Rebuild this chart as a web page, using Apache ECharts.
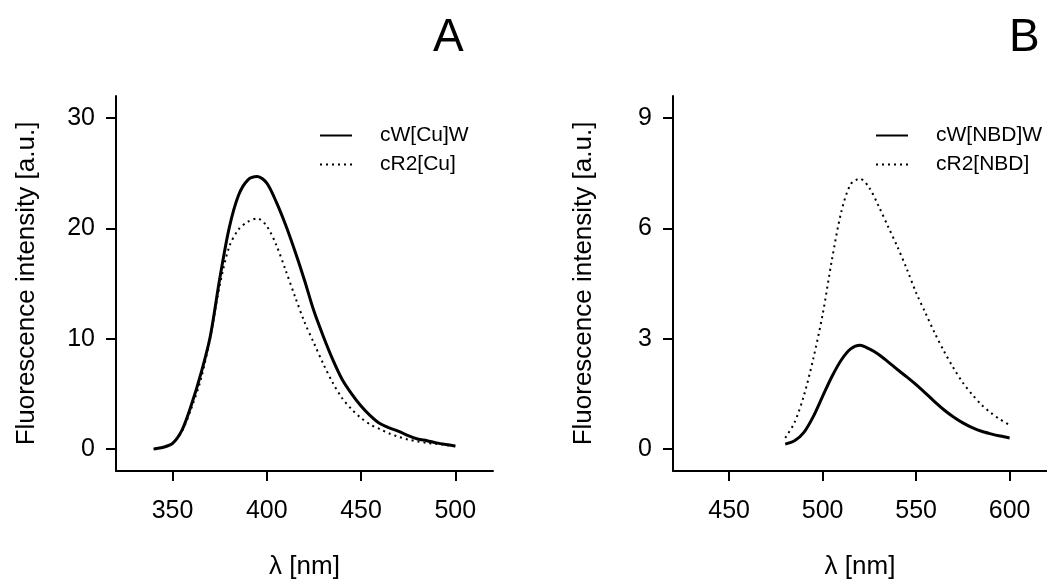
<!DOCTYPE html>
<html>
<head>
<meta charset="utf-8">
<script src="https://cdn.jsdelivr.net/npm/echarts@6/dist/echarts.min.js"></script>
<style>
html,body{margin:0;padding:0;background:#fff;}
#chart{width:1047px;height:585px;}
</style>
</head>
<body>
<div id="chart"></div>
<script>
// Panel A data (Cu)
const wlA = [340,345,350,355,360,365,370,375,380,385,390,395,400,405,410,415,420,425,430,435,440,445,450,455,460,465,470,475,480,485,490,495,500];
const cWCuW = [0,0.15,0.5,1.7,4.0,6.8,10.2,15.4,20.0,23.0,24.4,24.7,24.1,22.4,20.3,17.9,15.3,12.5,10.2,8.1,6.3,5.0,3.9,3.0,2.3,1.9,1.6,1.2,0.9,0.75,0.55,0.4,0.27];
const cR2Cu = [0,0.15,0.5,1.6,3.7,6.3,10.1,14.8,18.3,19.9,20.6,20.9,20.2,18.5,16.2,13.8,11.5,9.6,7.7,6.0,4.6,3.6,2.8,2.2,1.8,1.4,1.1,0.85,0.68,0.55,0.45,0.35,0.25];
// Panel B data (NBD)
const wlB = [480,485,490,495,500,505,510,515,520,525,530,535,540,545,550,555,560,565,570,575,580,585,590,595,600];
const cWNBDW = [0.13,0.22,0.45,0.88,1.43,1.97,2.42,2.72,2.82,2.72,2.57,2.37,2.16,1.96,1.75,1.52,1.28,1.06,0.87,0.71,0.58,0.48,0.41,0.35,0.30];
const cR2NBD = [0.3,0.72,1.45,2.45,3.65,5.15,6.45,7.2,7.35,7.1,6.6,6.05,5.5,4.9,4.25,3.7,3.15,2.65,2.2,1.8,1.48,1.2,0.98,0.8,0.65];
// Tick labels
const xTicksA = [350,400,450,500];
const yTicksA = [0,10,20,30];
const xTicksB = [450,500,550,600];
const yTicksB = [0,3,6,9];

const FONT = 'Liberation Sans, Arial, sans-serif';
const pairs = (xs, ys) => xs.map((x, i) => [x, ys[i]]);

function xAxis(gi, min, max, ticks) {
  return {
    type: 'value', gridIndex: gi, min: min, max: max,
    name: 'λ [nm]', nameLocation: 'middle', nameGap: 83,
    nameTextStyle: {fontFamily: FONT, fontSize: 26, color: '#000'},
    axisLine: {show: true, onZero: false, lineStyle: {color: '#000', width: 2}},
    axisTick: {show: true, length: 10, customValues: ticks, lineStyle: {color: '#000', width: 2}},
    axisLabel: {customValues: ticks, margin: 28, fontFamily: FONT, fontSize: 25, color: '#000'},
    splitLine: {show: false}
  };
}
function yAxis(gi, min, max, ticks) {
  return {
    type: 'value', gridIndex: gi, min: min, max: max,
    name: 'Fluorescence intensity [a.u.]', nameLocation: 'middle', nameGap: 76,
    nameTextStyle: {fontFamily: FONT, fontSize: 26, color: '#000'},
    axisLine: {show: true, onZero: false, lineStyle: {color: '#000', width: 2}},
    axisTick: {show: true, length: 10, customValues: ticks, lineStyle: {color: '#000', width: 2}},
    axisLabel: {customValues: ticks, margin: 21, fontFamily: FONT, fontSize: 25, color: '#000'},
    splitLine: {show: false}
  };
}
function solid(name, gi, data) {
  return {name: name, type: 'line', xAxisIndex: gi, yAxisIndex: gi, data: data,
    showSymbol: false, symbol: 'none', smooth: 0.3,
    lineStyle: {color: '#000', width: 3, type: 'solid'}, itemStyle: {color: '#000'}};
}
function dotted(name, gi, data) {
  return {name: name, type: 'line', xAxisIndex: gi, yAxisIndex: gi, data: data,
    showSymbol: false, symbol: 'none', smooth: 0.3,
    lineStyle: {color: '#000', width: 2, type: [2, 4]}, itemStyle: {color: '#000'}};
}
function legend(names, left) {
  return {
    show: true,
    data: names, left: left, top: 120, orient: 'vertical',
    itemWidth: 32, itemHeight: 14, itemGap: 8,
    itemStyle: {opacity: 0},
    lineStyle: {width: 2},
    textStyle: {fontFamily: FONT, fontSize: 21, color: '#000', padding: [0, 0, 0, 23]},
    selectedMode: false
  };
}

const chart = echarts.init(document.getElementById('chart'), null, {renderer: 'canvas'});
chart.setOption({
  backgroundColor: '#fff',
  animation: false,
  title: [
    {text: 'A', left: 428, top: 10, textStyle: {fontFamily: FONT, fontSize: 46, fontWeight: 'normal', color: '#000'}},
    {text: 'B', left: 1004, top: 10, textStyle: {fontFamily: FONT, fontSize: 46, fontWeight: 'normal', color: '#000'}}
  ],
  legend: [legend(['cW[Cu]W', 'cR2[Cu]'], 314), legend(['cW[NBD]W', 'cR2[NBD]'], 870)],
  grid: [
    {left: 116, top: 96, width: 377, height: 378, containLabel: false},
    {left: 673, top: 96, width: 377, height: 378, containLabel: false}
  ],
  xAxis: [xAxis(0, 320, 520, xTicksA), xAxis(1, 420, 620, xTicksB)],
  yAxis: [yAxis(0, -2, 32, yTicksA), yAxis(1, -0.6, 9.6, yTicksB)],
  series: [
    solid('cW[Cu]W', 0, pairs(wlA, cWCuW)),
    dotted('cR2[Cu]', 0, pairs(wlA, cR2Cu)),
    solid('cW[NBD]W', 1, pairs(wlB, cWNBDW)),
    dotted('cR2[NBD]', 1, pairs(wlB, cR2NBD))
  ]
});
</script>
</body>
</html>
